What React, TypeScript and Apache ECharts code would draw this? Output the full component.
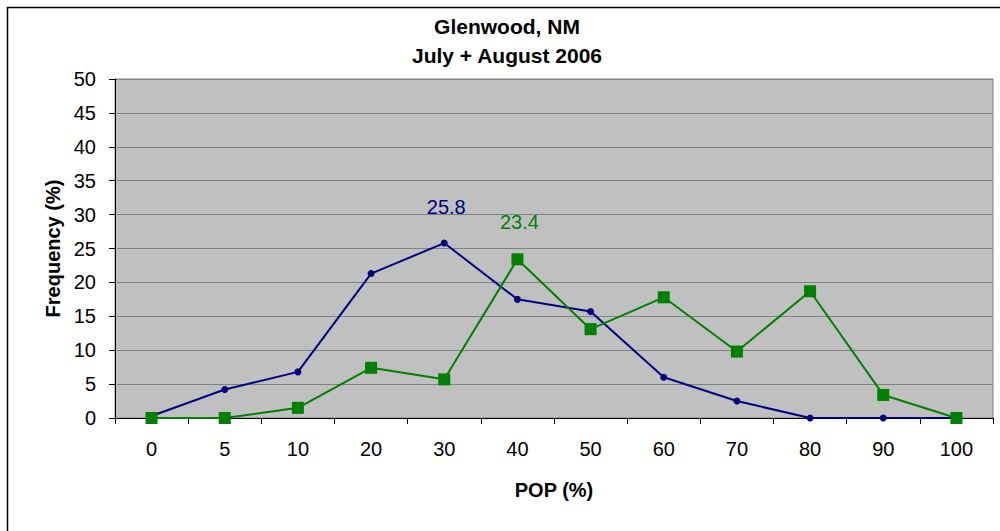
import React, { useEffect, useRef } from "react";
import * as echarts from "echarts";

const categories = ["0", "5", "10", "20", "30", "40", "50", "60", "70", "80", "90", "100"];
const blueValues = [0.3, 4.2, 6.8, 21.3, 25.8, 17.5, 15.7, 6.0, 2.5, 0, 0, 0];
const greenValues = [0, 0, 1.5, 7.4, 5.7, 23.4, 13.1, 17.8, 9.8, 18.7, 3.4, 0];
const blueLabelIndex = 4;
const greenLabelIndex = 5;
const titleLines = ["Glenwood, NM", "July + August 2006"];

const FONT = "'Liberation Sans', Arial, sans-serif";

export default function App() {
  const ref = useRef<HTMLDivElement>(null);
  useEffect(() => {
    if (!ref.current) return;
    const chart = echarts.init(ref.current, undefined, { renderer: "svg" });
    const mkData = (vals: number[], idx: number, color: string, offset: number[]) =>
      vals.map((v, i) =>
        i === idx
          ? {
              value: v,
              label: {
                show: true,
                position: "top",
                offset,
                color,
                fontSize: 20,
                fontFamily: FONT,
                formatter: (p: any) => p.value.toFixed(1),
              },
            }
          : v
      );
    chart.setOption({
      animation: false,
      backgroundColor: "#ffffff",
      textStyle: { fontFamily: FONT },
      graphic: [
        {
          type: "rect",
          shape: { x: 7.5, y: 7.5, width: 1200, height: 1200 },
          style: { fill: "none", stroke: "#000", lineWidth: 1.5 },
          silent: true,
        },
        {
          type: "text",
          x: 507,
          y: 26,
          style: {
            text: titleLines[0],
            fontFamily: FONT,
            fontSize: 21,
            fontWeight: "bold",
            fill: "#000",
            textAlign: "center",
            textVerticalAlign: "middle",
          },
        },
        {
          type: "text",
          x: 507,
          y: 55,
          style: {
            text: titleLines[1],
            fontFamily: FONT,
            fontSize: 21,
            fontWeight: "bold",
            fill: "#000",
            textAlign: "center",
            textVerticalAlign: "middle",
          },
        },
      ],
      grid: {
        left: 115,
        top: 79,
        right: 7,
        bottom: 113,
        show: true,
        backgroundColor: "#c0c0c0",
        borderColor: "#808080",
        borderWidth: 1,
      },
      xAxis: {
        type: "category",
        data: categories,
        boundaryGap: true,
        name: "POP (%)",
        nameLocation: "middle",
        nameGap: 62,
        nameTextStyle: { fontSize: 20, fontWeight: "bold", color: "#000", fontFamily: FONT },
        axisLine: { lineStyle: { color: "#000", width: 1 } },
        axisTick: { show: true, inside: false, length: 6, alignWithLabel: false, lineStyle: { color: "#000" } },
        axisLabel: { fontSize: 20, color: "#000", margin: 21, fontFamily: FONT },
        splitLine: { show: false },
      },
      yAxis: {
        type: "value",
        min: 0,
        max: 50,
        interval: 5,
        name: "Frequency (%)",
        nameLocation: "middle",
        nameGap: 47,
        nameRotate: 90,
        nameTextStyle: { fontSize: 20, fontWeight: "bold", color: "#000", fontFamily: FONT },
        axisLine: { show: true, lineStyle: { color: "#000", width: 1 } },
        axisTick: { show: true, inside: false, length: 6, lineStyle: { color: "#000" } },
        axisLabel: { fontSize: 20, color: "#000", margin: 19, fontFamily: FONT },
        splitLine: { show: true, lineStyle: { color: "#808080", width: 1 } },
      },
      series: [
        {
          type: "line",
          data: mkData(blueValues, blueLabelIndex, "#000080", [2, -18]),
          symbol: "circle",
          symbolSize: 7,
          itemStyle: { color: "#000080" },
          lineStyle: { color: "#000080", width: 2 },
        },
        {
          type: "line",
          data: mkData(greenValues, greenLabelIndex, "#008000", [2, -16]),
          symbol: "rect",
          symbolSize: 12,
          itemStyle: { color: "#008000" },
          lineStyle: { color: "#008000", width: 2 },
        },
      ],
    });
    return () => chart.dispose();
  }, []);
  return (
    <div
      ref={ref}
      style={{ position: "fixed", left: 0, top: 0, width: 1000, height: 531 }}
    />
  );
}
